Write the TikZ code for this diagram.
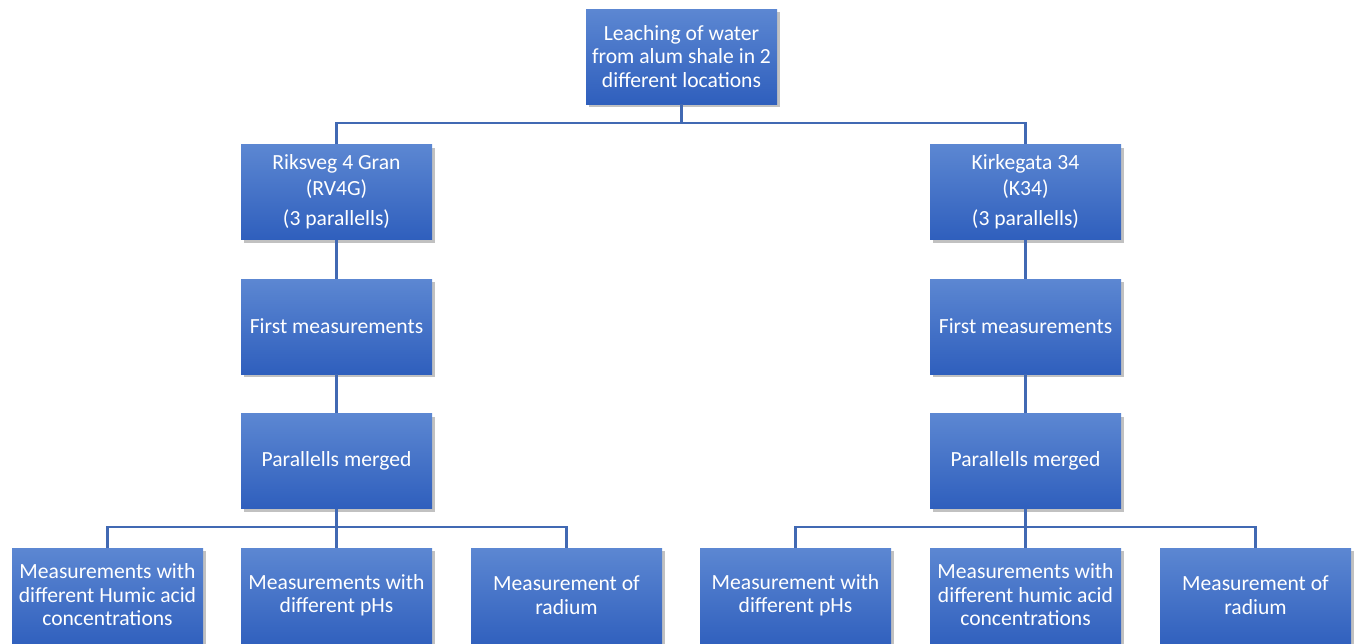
\documentclass[tikz,border=0pt]{standalone}
\usepackage{fontspec}
\setmainfont{Carlito}
\usetikzlibrary{shadows}
\definecolor{boxtop}{HTML}{5C87D2}
\definecolor{boxbot}{HTML}{2F5FBD}
\definecolor{linkc}{HTML}{4169B3}
\tikzset{
  boxfont/.style={font=\fontsize{16.2}{17.6}\selectfont},
  box/.style={rectangle, minimum width=143.25pt, minimum height=71.25pt, inner sep=0pt,
    align=center, text=white, boxfont,
    top color=boxtop, bottom color=boxbot, draw=none,
    drop shadow={opacity=0.3, shadow xshift=2pt, shadow yshift=-2.5pt, fill=black!80}},
  label/.style={text=white, align=center, boxfont, inner sep=0pt},
  link/.style={draw=linkc, line width=1.6pt}
}
\begin{document}
\begin{tikzpicture}[x=0.75pt, y=-0.75pt]
\useasboundingbox (0,0) rectangle (1357,643);
\node[box] (top) at (681.5,56.5) {Leaching of water\\from alum shale in 2\\different locations};
\node[box] (rv) at (336.5,192) {Riksveg 4 Gran\\[2pt](RV4G)\\[5pt](3 parallells)};
\node[box] (k) at (1025.5,192) {Kirkegata 34\\[2pt](K34)\\[5pt](3 parallells)};
\node[box] (fml) at (336.5,326.5) {First measurements};
\node[box] (fmr) at (1025.5,326.5) {First measurements};
\node[box] (pml) at (336.5,461) {Parallells merged};
\node[box] (pmr) at (1025.5,461) {Parallells merged};
\node[box, minimum height=75pt] (b1) at (107.5,598) {};
\node[box, minimum height=75pt] (b2) at (336.5,598) {};
\node[box, minimum height=75pt] (b3) at (566.5,598) {};
\node[box, minimum height=75pt] (b4) at (795.5,598) {};
\node[box, minimum height=75pt] (b5) at (1025.5,598) {};
\node[box, minimum height=75pt] (b6) at (1255.5,598) {};
\node[label] (t1) at (107.5,595) {Measurements with\\different Humic acid\\concentrations};
\node[label] (t2) at (336.5,595) {Measurements with\\different pHs};
\node[label] (t3) at (566.5,595) {Measurement of\\radium};
\node[label] (t4) at (795.5,595) {Measurement with\\different pHs};
\node[label] (t5) at (1025.5,595) {Measurements with\\different humic acid\\concentrations};
\node[label] (t6) at (1255.5,595) {Measurement of\\radium};
\coordinate (j0) at (681.5,123);
\coordinate (jl) at (336.5,527);
\coordinate (jr) at (1025.5,527);
\path[link] (top.south) -- (j0) -| (rv.north);
\path[link] (j0) -| (k.north);
\path[link] (rv.south) -- (fml.north);
\path[link] (k.south) -- (fmr.north);
\path[link] (fml.south) -- (pml.north);
\path[link] (fmr.south) -- (pmr.north);
\path[link] (pml.south) -- (jl) -| (b1.north);
\path[link] (jl) -- (b2.north);
\path[link] (jl) -| (b3.north);
\path[link] (pmr.south) -- (jr) -| (b4.north);
\path[link] (jr) -- (b5.north);
\path[link] (jr) -| (b6.north);
\end{tikzpicture}
\end{document}
